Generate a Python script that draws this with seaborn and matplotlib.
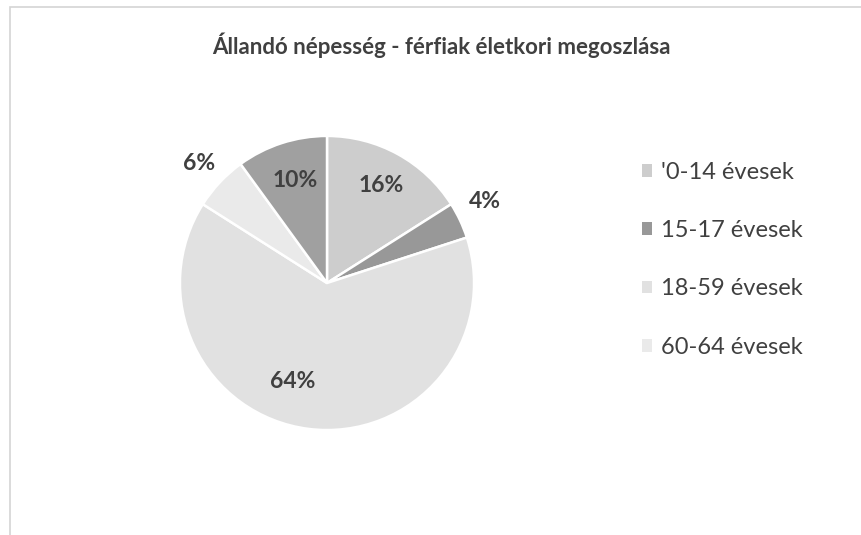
import numpy as np
import seaborn as sns
import matplotlib.pyplot as plt
from matplotlib.patches import Rectangle, Patch

# adatok
korcsoportok = ["'0-14 évesek", "15-17 évesek", "18-59 évesek", "60-64 évesek", "65+ évesek"]
aranyok = [16, 4, 64, 6, 10]
szinek = ["#cdcdcd", "#989898", "#e1e1e1", "#eaeaea", "#a0a0a0"]
cim = "Állandó népesség - férfiak életkori megoszlása"

# címke elhelyezés (sugár arány, szög eltolás fokban)
cimke_r = [0.76, 1.21, 0.71, 1.19, 0.73]
cimke_dszog = [0, 2, -12, 0, -1]

sns.set_theme(style="white")
plt.rcParams['font.family'] = ['Lato', 'DejaVu Sans']

fig = plt.figure(figsize=(8.61, 5.35), dpi=100)
W, H = 861, 535

# keret
fig.patches.append(Rectangle((10 / W, -0.1), 1.2, 1.1 - 7 / H, transform=fig.transFigure,
                             fill=False, edgecolor="#d4d4d4", linewidth=1.2))

cx, cy, half = 327, H - 283, 150
ax = fig.add_axes([(cx - half) / W, (cy - half) / H, 2 * half / W, 2 * half / H])
wedges, _ = ax.pie(aranyok, colors=szinek, startangle=90, counterclock=False,
                   wedgeprops=dict(edgecolor="white", linewidth=1.8))
ax.set_xlim(-1.02, 1.02)
ax.set_ylim(-1.02, 1.02)
ax.set_aspect("equal")
ax.axis("off")

for w, p, r, d in zip(wedges, aranyok, cimke_r, cimke_dszog):
    ang = np.deg2rad((w.theta1 + w.theta2) / 2 + d)
    ax.text(r * np.cos(ang), r * np.sin(ang), f"{p}%", ha="center", va="center",
            fontsize=16.5, fontweight="bold", color="#404040")

fig.text(441 / W, 1 - 45 / H, cim, ha="center", va="center",
         fontsize=16, fontweight="bold", color="#404040")

handles = [Patch(facecolor=c, edgecolor="none") for c in szinek[:4]]
fig.legend(handles, korcsoportok[:4], loc="upper left",
           bbox_to_anchor=(630 / W, 1 - 150 / H), frameon=False,
           fontsize=17, labelcolor="#404040", handlelength=0.45, handleheight=0.45,
           handletextpad=0.35, labelspacing=1.58, borderpad=0)

fig.savefig("out.png", dpi=100, facecolor="white")
